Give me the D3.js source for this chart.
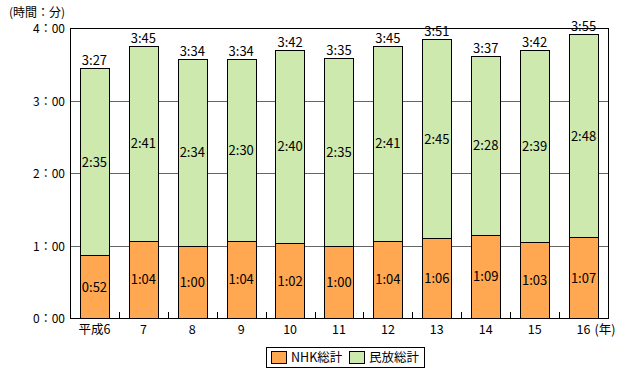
<!DOCTYPE html>
<html>
<head>
<meta charset="utf-8">
<script src="https://cdn.jsdelivr.net/npm/d3@7"></script>
<style>
  body { margin: 0; background: #fff; }
  text { font-family: "Noto Sans CJK JP", "Noto Sans", sans-serif; fill: #000; }
</style>
</head>
<body>
<div id="chart"></div>
<script>
// years (平成) and minutes per day
var years = ["平成6", "7", "8", "9", "10", "11", "12", "13", "14", "15", "16"];
var nhk = [52, 64, 60, 64, 62, 60, 64, 66, 69, 63, 67];
var minpo = [155, 161, 154, 150, 160, 155, 161, 165, 148, 159, 168];
var yTicks = [0, 60, 120, 180, 240];
var seriesNames = ["NHK総計", "民放総計"];
var seriesColors = ["#FFA851", "#CDE9AD"];

var W = 628, H = 377;
var margin = {top: 28, right: 20, bottom: 59, left: 70};
var width = W - margin.left - margin.right,
    height = H - margin.top - margin.bottom;

function fmt(m) {
  var h = Math.floor(m / 60), mm = m % 60;
  return h + ":" + (mm < 10 ? "0" : "") + mm;
}

var svg = d3.select("#chart").append("svg")
  .attr("width", W)
  .attr("height", H);

var g = svg.append("g")
  .attr("transform", "translate(" + margin.left + "," + margin.top + ")");

var x = d3.scaleBand()
  .domain(years)
  .range([0, width])
  .paddingInner(0.4)
  .paddingOuter(0.2);

var y = d3.scaleLinear()
  .domain([0, 240])
  .range([height, 0]);

// grid lines
g.selectAll(".grid")
  .data(yTicks.filter(function(d) { return d > 0 && d < 240; }))
  .enter().append("line")
  .attr("x1", 0).attr("x2", width)
  .attr("y1", function(d) { return Math.round(y(d)) + 0.5; })
  .attr("y2", function(d) { return Math.round(y(d)) + 0.5; })
  .attr("stroke", "#666")
  .attr("stroke-width", 1);

// stacked data
var rows = years.map(function(yr, i) { return {year: yr, nhk: nhk[i], minpo: minpo[i]}; });
var stack = d3.stack().keys(["nhk", "minpo"])(rows);

var layers = g.selectAll(".layer")
  .data(stack)
  .enter().append("g")
  .attr("fill", function(d, i) { return seriesColors[i]; });

layers.selectAll("rect")
  .data(function(d) { return d; })
  .enter().append("rect")
  .attr("x", function(d) { return Math.round(x(d.data.year)) + 0.5; })
  .attr("width", Math.round(x.bandwidth()))
  .attr("y", function(d) { return Math.round(y(d[1])) + 0.5; })
  .attr("height", function(d) { return Math.round(y(d[0])) - Math.round(y(d[1])); })
  .attr("stroke", "#000")
  .attr("stroke-width", 1);

// segment labels
layers.selectAll("text")
  .data(function(d) { return d; })
  .enter().append("text")
  .attr("x", function(d) { return x(d.data.year) + x.bandwidth() / 2; })
  .attr("y", function(d) { return y((d[0] + d[1]) / 2) + 5; })
  .attr("text-anchor", "middle")
  .attr("font-size", 13)
  .text(function(d) { return fmt(d[1] - d[0]); });

// totals
g.selectAll(".total")
  .data(rows)
  .enter().append("text")
  .attr("x", function(d) { return x(d.year) + x.bandwidth() / 2; })
  .attr("y", function(d) { return y(d.nhk + d.minpo) - 3; })
  .attr("text-anchor", "middle")
  .attr("font-size", 13)
  .text(function(d) { return fmt(d.nhk + d.minpo); });

// frame
g.append("rect")
  .attr("x", 0.5).attr("y", 0.5)
  .attr("width", width).attr("height", height)
  .attr("fill", "none")
  .attr("stroke", "#000");

// category boundary ticks (inside)
var bounds = years.slice(1).map(function(d) { return x(d) - x.step() * x.paddingInner() / 2; });
g.selectAll(".xtick")
  .data(bounds)
  .enter().append("line")
  .attr("x1", function(d) { return Math.round(d) + 0.5; })
  .attr("x2", function(d) { return Math.round(d) + 0.5; })
  .attr("y1", height).attr("y2", height - 6)
  .attr("stroke", "#000");

// x labels
g.selectAll(".xlab")
  .data(years)
  .enter().append("text")
  .attr("x", function(d) { return x(d) + x.bandwidth() / 2; })
  .attr("y", height + 16)
  .attr("text-anchor", "middle")
  .attr("font-size", 12.5)
  .text(function(d) { return d; });

g.append("text")
  .attr("x", x("16") + x.bandwidth() / 2 + 11)
  .attr("y", height + 16)
  .attr("font-size", 12.5)
  .text("(年)");

// y labels
g.selectAll(".ylab")
  .data(yTicks)
  .enter().append("text")
  .attr("x", -5)
  .attr("y", function(d) { return y(d) + 5; })
  .attr("text-anchor", "end")
  .attr("font-size", 12)
  .text(function(d) { return (d / 60) + "：00"; });

svg.append("text")
  .attr("x", 9).attr("y", 17)
  .attr("font-size", 12)
  .text("(時間：分)");

// legend
var leg = svg.append("g").attr("transform", "translate(266,347)");
leg.append("rect")
  .attr("x", 0.5).attr("y", 0.5)
  .attr("width", 158).attr("height", 20)
  .attr("fill", "#fff").attr("stroke", "#000");
var legX = [5, 83];
seriesNames.forEach(function(name, i) {
  leg.append("rect")
    .attr("x", legX[i] + 0.5).attr("y", 4.5)
    .attr("width", 15).attr("height", 12)
    .attr("fill", seriesColors[i]).attr("stroke", "#000");
  leg.append("text")
    .attr("x", legX[i] + 20).attr("y", 15)
    .attr("font-size", 12.5)
    .text(name);
});
</script>
</body>
</html>
